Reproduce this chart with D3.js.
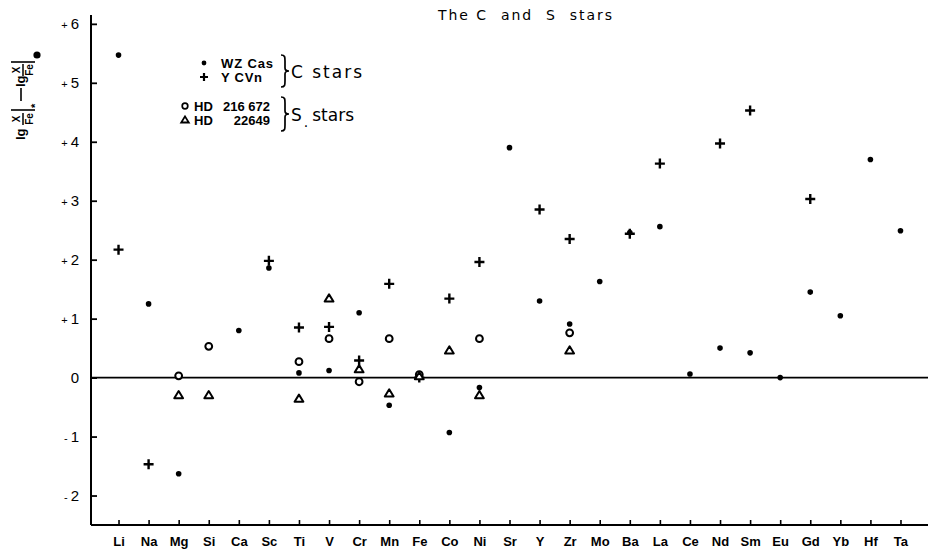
<!DOCTYPE html>
<html>
<head>
<meta charset="utf-8">
<script src="https://cdn.jsdelivr.net/npm/d3@7"></script>
<style>
  html, body { margin: 0; padding: 0; background: #fff; }
  svg { display: block; }
  text { fill: #000; }
</style>
</head>
<body>
<svg id="chart" width="928" height="550"></svg>
<script>
// ---------- data ----------
const elements = ["Li","Na","Mg","Si","Ca","Sc","Ti","V","Cr","Mn","Fe","Co","Ni","Sr","Y","Zr","Mo","Ba","La","Ce","Nd","Sm","Eu","Gd","Yb","Hf","Ta"];

// WZ Cas (C star) – filled dots
const wzCas = [5.47, 1.25, -1.63, null, 0.80, 1.86, 0.08, 0.12, 1.10, -0.47, null, -0.93, -0.17, 3.90, 1.30, 0.91, 1.63, 2.46, 2.56, 0.06, 0.50, 0.42, 0.00, 1.45, 1.05, 3.70, 2.49];
// Y CVn (C star) – plus signs
const yCVn  = [2.17, -1.47, null, null, null, 1.98, 0.85, 0.86, 0.29, 1.59, 0.00, 1.34, 1.96, null, 2.85, 2.35, null, 2.44, 3.63, null, 3.97, 4.53, null, 3.03, null, null, null];
// HD 216672 (S star) – open circles
const hd216672 = [null, null, 0.03, 0.53, null, null, 0.27, 0.66, -0.07, 0.66, 0.05, null, 0.66, null, null, 0.76, null, null, null, null, null, null, null, null, null, null, null];
// HD 22649 (S star) – open triangles
const hd22649 = [null, null, -0.30, -0.30, null, null, -0.36, 1.34, 0.14, -0.27, 0.02, 0.46, -0.30, null, null, 0.46, null, null, null, null, null, null, null, null, null, null, null];

const yTicks = [-2, -1, 0, 1, 2, 3, 4, 5, 6];
const yTickLabels = ["-2", "-1", "0", "+1", "+2", "+3", "+4", "+5", "+6"];

// ---------- layout ----------
const svg = d3.select("#chart");
const axisX0 = 91, axisRight = 928, axisTop = 15, axisBottom = 525;

const x = d3.scalePoint().domain(elements).range([axisX0, axisRight]).padding(0.915);
const y = d3.scaleLinear().domain([-2.5, 6.15]).range([axisBottom, axisTop]);

// Y axis
const yAxis = d3.axisLeft(y).tickValues(yTicks).tickSize(-6).tickPadding(0).tickFormat(() => "");
const gy = svg.append("g").attr("transform", `translate(${axisX0},0)`).call(yAxis);
gy.select(".domain").attr("stroke", "#000").attr("stroke-width", 2).attr("d", `M0,${axisTop}V${axisBottom}`);
gy.selectAll(".tick line").attr("stroke", "#000").attr("stroke-width", 1.8);

// Y tick labels (small plus sign)
const ylab = svg.append("g").selectAll("text").data(yTicks).join("text")
  .attr("x", 79).attr("y", d => y(d) + 5.5)
  .attr("text-anchor", "end")
  .attr("font-family", "'Liberation Sans', Arial, sans-serif")
  .attr("font-size", 15);
ylab.each(function(d, i) {
  const t = d3.select(this);
  const lbl = yTickLabels[i];
  if (lbl[0] === "+" || lbl[0] === "-") {
    t.append("tspan").attr("font-size", 11).text(lbl[0]);
    t.append("tspan").attr("dx", 3).text(lbl.slice(1));
  } else {
    t.text(lbl);
  }
});

// X axis
const xAxis = d3.axisBottom(x).tickSize(-5).tickPadding(12);
const gx = svg.append("g").attr("transform", `translate(0,${axisBottom})`).call(xAxis);
gx.select(".domain").attr("stroke", "#000").attr("stroke-width", 2).attr("d", `M${axisX0},0H${axisRight}`);
gx.selectAll(".tick line").attr("stroke", "#000").attr("stroke-width", 1.6);
gx.selectAll(".tick text")
  .attr("font-family", "'Liberation Sans', Arial, sans-serif")
  .attr("font-weight", "bold")
  .attr("font-size", 13)
  .attr("fill", "#000");

// zero line
svg.append("line")
  .attr("x1", axisX0).attr("x2", axisRight)
  .attr("y1", y(0)).attr("y2", y(0))
  .attr("stroke", "#000").attr("stroke-width", 1.6);

// ---------- markers ----------
const pts = arr => elements.map((e, i) => ({e, v: arr[i]})).filter(d => d.v !== null);
const plusPath = "M-5,0H5M0,-5V5";
const triPath = (s) => `M0,${-s}L${s*1.05},${s*0.7}L${-s*1.05},${s*0.7}Z`;

const gm = svg.append("g");
gm.selectAll("circle.wz").data(pts(wzCas)).join("circle")
  .attr("class", "wz")
  .attr("cx", d => x(d.e)).attr("cy", d => y(d.v)).attr("r", 2.8).attr("fill", "#000");

gm.selectAll("path.ycvn").data(pts(yCVn)).join("path")
  .attr("class", "ycvn")
  .attr("transform", d => `translate(${x(d.e)},${y(d.v)})`)
  .attr("d", plusPath).attr("stroke", "#000").attr("stroke-width", 2.4).attr("fill", "none");

gm.selectAll("circle.hd1").data(pts(hd216672)).join("circle")
  .attr("class", "hd1")
  .attr("cx", d => x(d.e)).attr("cy", d => y(d.v)).attr("r", 3.4)
  .attr("fill", "#fff").attr("stroke", "#000").attr("stroke-width", 2);

gm.selectAll("path.hd2").data(pts(hd22649)).join("path")
  .attr("class", "hd2")
  .attr("transform", d => `translate(${x(d.e)},${y(d.v)})`)
  .attr("d", triPath(4.2))
  .attr("fill", "#fff").attr("stroke", "#000").attr("stroke-width", 2).attr("stroke-linejoin", "round");

// ---------- title ----------
svg.append("text")
  .attr("x", 438).attr("y", 20)
  .attr("font-family", "'DejaVu Sans', sans-serif")
  .attr("font-size", 14)
  .attr("textLength", 174).attr("lengthAdjust", "spacing")
  .style("white-space", "pre")
  .text("The C  and  S  stars");

// ---------- legend ----------
const lg = svg.append("g").attr("font-family", "'Liberation Sans', Arial, sans-serif").attr("font-weight", "bold");
const legFont = 13;
lg.append("circle").attr("cx", 204).attr("cy", 63).attr("r", 2.4).attr("fill", "#000");
lg.append("text").attr("x", 221).attr("y", 67.5).attr("font-size", legFont).attr("textLength", 52).text("WZ Cas");
lg.append("path").attr("transform", "translate(204,77)").attr("d", "M-4,0H4M0,-4V4").attr("stroke", "#000").attr("stroke-width", 2.2);
lg.append("text").attr("x", 221).attr("y", 81.5).attr("font-size", legFont).attr("textLength", 41).text("Y CVn");

lg.append("circle").attr("cx", 185).attr("cy", 106).attr("r", 2.8).attr("fill", "none").attr("stroke", "#000").attr("stroke-width", 1.7);
lg.append("text").attr("x", 194).attr("y", 111).attr("font-size", legFont).text("HD");
lg.append("text").attr("x", 270).attr("y", 111).attr("text-anchor", "end").attr("font-size", legFont).text("216 672");
lg.append("path").attr("transform", "translate(185,120)").attr("d", triPath(3.6)).attr("fill", "none").attr("stroke", "#000").attr("stroke-width", 1.8);
lg.append("text").attr("x", 194).attr("y", 125).attr("font-size", legFont).text("HD");
lg.append("text").attr("x", 270).attr("y", 125).attr("text-anchor", "end").attr("font-size", legFont).text("22649");

function brace(cx, y0, y1) {
  const m = (y0 + y1) / 2;
  return `M${cx-4},${y0} C${cx},${y0} ${cx},${y0+2} ${cx},${y0+6} L${cx},${m-3} C${cx},${m-1} ${cx+1},${m} ${cx+4},${m} ` +
         `C${cx+1},${m} ${cx},${m+1} ${cx},${m+3} L${cx},${y1-6} C${cx},${y1-2} ${cx},${y1} ${cx-4},${y1}`;
}
lg.append("path").attr("d", brace(285, 55, 87)).attr("fill", "none").attr("stroke", "#000").attr("stroke-width", 1.7);
lg.append("path").attr("d", brace(285, 97, 131)).attr("fill", "none").attr("stroke", "#000").attr("stroke-width", 1.7);

lg.append("text").attr("x", 291).attr("y", 77.5).attr("font-size", 17).attr("font-weight", "normal")
  .attr("font-family", "'DejaVu Sans', sans-serif").attr("textLength", 71).text("C stars");
const st = lg.append("text").attr("x", 291).attr("y", 120.5).attr("font-size", 17).attr("font-weight", "normal")
  .attr("font-family", "'DejaVu Sans', sans-serif");
st.append("tspan").text("S");
st.append("tspan").attr("dy", 6).attr("dx", 2).attr("font-size", 14).text(".");
st.append("tspan").attr("dy", -6).attr("dx", 4).text("stars");

// ---------- y-axis label (rotated) ----------
const yl = svg.append("g").attr("transform", "translate(0,140) rotate(-90)")
  .attr("font-family", "'Liberation Sans', Arial, sans-serif").attr("font-weight", "bold");
// first term: lg X/Fe |*
yl.append("text").attr("x", 0).attr("y", 25).attr("font-size", 13).text("lg");
yl.append("text").attr("x", 21).attr("y", 20).attr("font-size", 10).attr("text-anchor", "middle").text("X");
yl.append("line").attr("x1", 15).attr("x2", 27).attr("y1", 23).attr("y2", 23).attr("stroke", "#000").attr("stroke-width", 1.5);
yl.append("text").attr("x", 21).attr("y", 33).attr("font-size", 10).attr("text-anchor", "middle").text("Fe");
yl.append("line").attr("x1", 30).attr("x2", 30).attr("y1", 11).attr("y2", 35).attr("stroke", "#000").attr("stroke-width", 1.6);
yl.append("text").attr("x", 32).attr("y", 39).attr("font-size", 11).text("*");
// minus
yl.append("line").attr("x1", 39).attr("x2", 52).attr("y1", 21).attr("y2", 21).attr("stroke", "#000").attr("stroke-width", 1.6);
// second term: lg X/Fe |●
yl.append("text").attr("x", 53).attr("y", 25).attr("font-size", 13).text("lg");
yl.append("text").attr("x", 70).attr("y", 20).attr("font-size", 10).attr("text-anchor", "middle").text("X");
yl.append("line").attr("x1", 64).attr("x2", 76).attr("y1", 23).attr("y2", 23).attr("stroke", "#000").attr("stroke-width", 1.5);
yl.append("text").attr("x", 70).attr("y", 33).attr("font-size", 10).attr("text-anchor", "middle").text("Fe");
yl.append("line").attr("x1", 78).attr("x2", 78).attr("y1", 11).attr("y2", 35).attr("stroke", "#000").attr("stroke-width", 1.6);
yl.append("circle").attr("cx", 85).attr("cy", 37).attr("r", 3.6).attr("fill", "#000");
</script>
</body>
</html>
